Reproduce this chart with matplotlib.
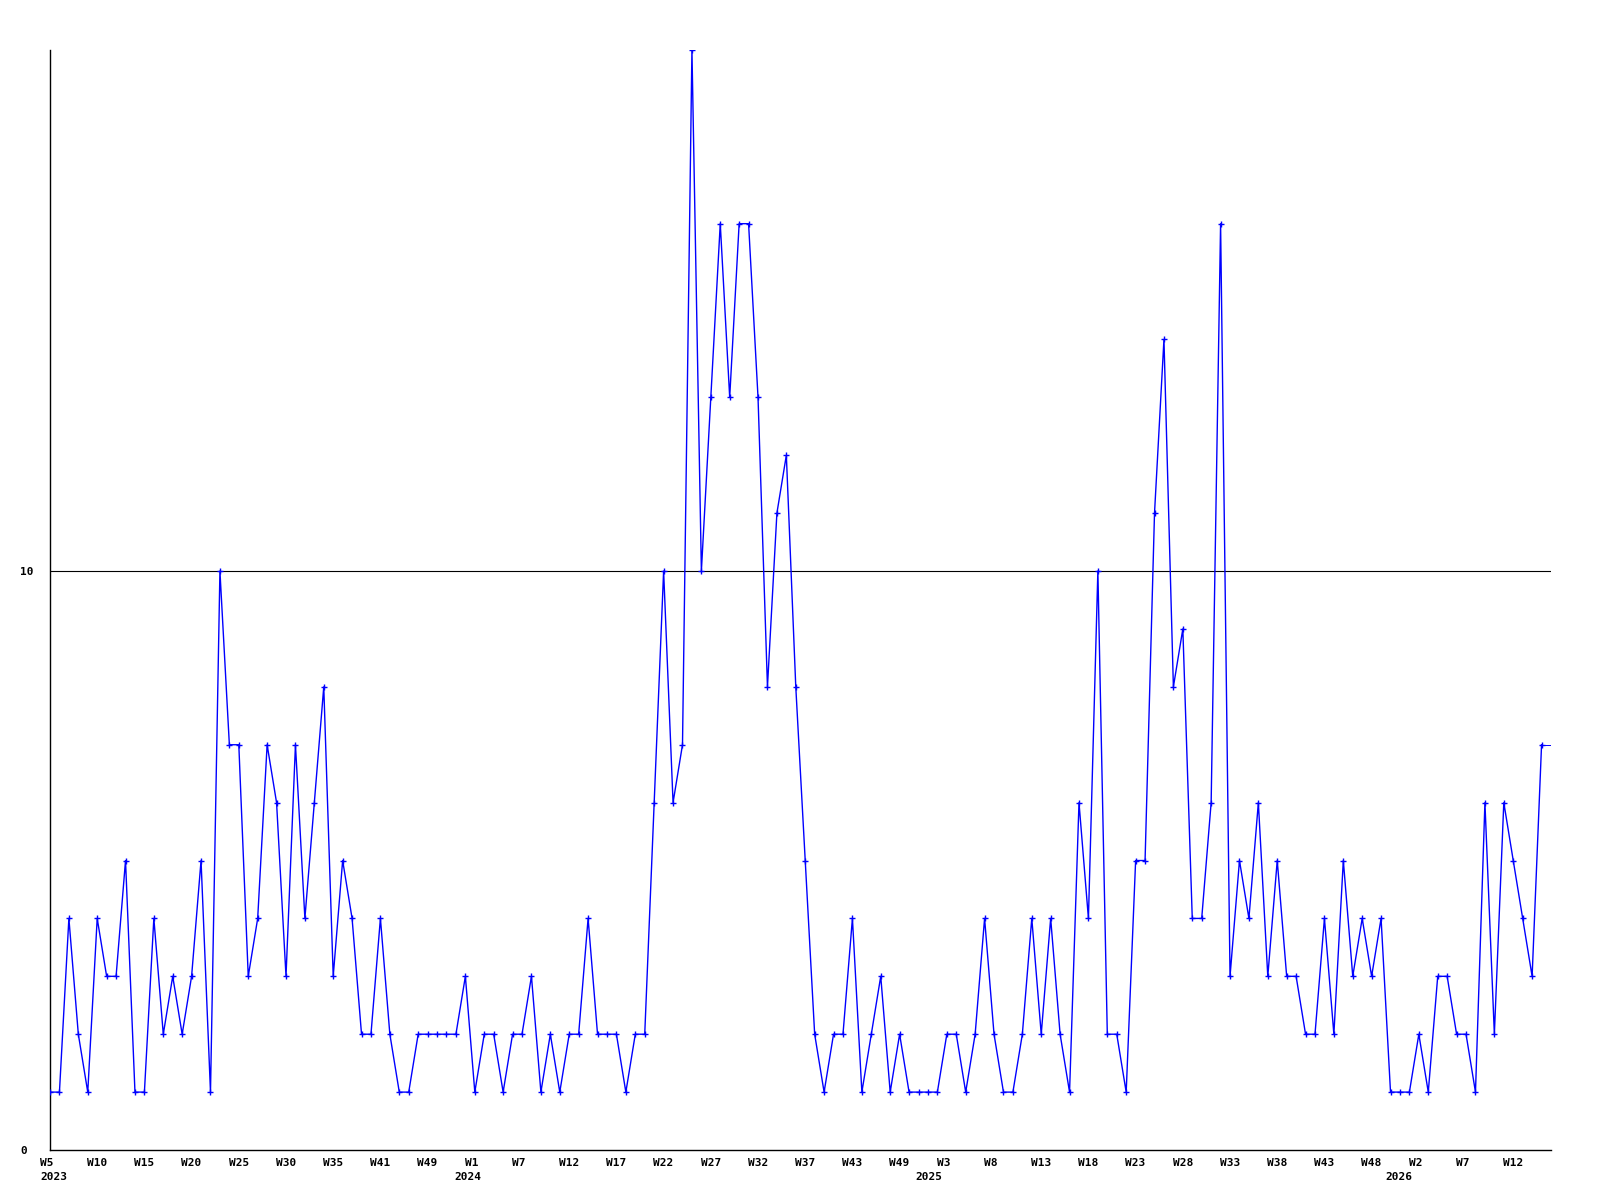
import matplotlib
matplotlib.use("Agg")
import matplotlib.pyplot as plt
import matplotlib.transforms as mtransforms

# weekly values, one per data point (W5 2023 ... W15 2026)
values = [
    1, 1, 4, 2, 1, 4, 3, 3, 5, 1,
    1, 4, 2, 3, 2, 3, 5, 1, 10, 7,
    7, 3, 4, 7, 6, 3, 7, 4, 6, 8,
    3, 5, 4, 2, 2, 4, 2, 1, 1, 2,
    2, 2, 2, 2, 3, 1, 2, 2, 1, 2,
    2, 3, 1, 2, 1, 2, 2, 4, 2, 2,
    2, 1, 2, 2, 6, 10, 6, 7, 19, 10,
    13, 16, 13, 16, 16, 13, 8, 11, 12, 8,
    5, 2, 1, 2, 2, 4, 1, 2, 3, 1,
    2, 1, 1, 1, 1, 2, 2, 1, 2, 4,
    2, 1, 1, 2, 4, 2, 4, 2, 1, 6,
    4, 10, 2, 2, 1, 5, 5, 11, 14, 8,
    9, 4, 4, 6, 16, 3, 5, 4, 6, 3,
    5, 3, 3, 2, 2, 4, 2, 5, 3, 4,
    3, 4, 1, 1, 1, 2, 1, 3, 3, 2,
    2, 1, 6, 2, 6, 5, 4, 3, 7,
]

# x tick labels, one every 5 data points
tick_labels = [
    "W5", "W10", "W15", "W20", "W25", "W30", "W35", "W41", "W49",
    "W1", "W7", "W12", "W17", "W22", "W27", "W32", "W37", "W43", "W49",
    "W3", "W8", "W13", "W18", "W23", "W28", "W33", "W38", "W43", "W48",
    "W2", "W7", "W12",
]
tick_step = 5

# year labels and the (fractional) data index they sit under
year_labels = ["2023", "2024", "2025", "2026"]
year_index = [0.4, 44.3, 93.1, 142.9]

y_ticks = [0, 10]
y_max = 19

font = {"family": "DejaVu Sans Mono", "weight": "bold", "size": 8}

fig = plt.figure(figsize=(16, 12), dpi=100)
ax = fig.add_axes([50 / 1600, 1 - 1150 / 1200, (1551 - 50) / 1600, (1150 - 50) / 1200])

n = len(values)
xs = list(range(n))
ax.plot(xs, values, color="#0000ff", lw=1.0, marker="+", ms=5, mew=1.0, zorder=3)
# line continues to the right edge at the last value
ax.plot([n - 1, n], [values[-1], values[-1]], color="#0000ff", lw=0.7, zorder=3)

ax.set_xlim(0, n)
ax.set_ylim(0, y_max)

ax.axhline(10, color="black", lw=0.8, zorder=1)

for s in ["top", "right"]:
    ax.spines[s].set_visible(False)
for s in ["left", "bottom"]:
    ax.spines[s].set_linewidth(1.0)
    ax.spines[s].set_color("black")

ax.set_xticks([i * tick_step for i in range(len(tick_labels))])
ax.set_xticklabels(tick_labels, **font)
ax.tick_params(axis="x", length=0, pad=6)
shift = mtransforms.ScaledTranslation(-10.2 / 100, 0, fig.dpi_scale_trans)
for lab in ax.get_xticklabels():
    lab.set_horizontalalignment("left")
    lab.set_transform(lab.get_transform() + shift)

trans = mtransforms.blended_transform_factory(ax.transData, ax.transAxes)
for yl, yi in zip(year_labels, year_index):
    ax.text(yi, -26.5 / 1100, yl, transform=trans, ha="center", va="center", **font)

ax.set_yticks(y_ticks)
ax.set_yticklabels([str(v) for v in y_ticks], **font)
ax.tick_params(axis="y", length=0, pad=21.6)
for lab in ax.get_yticklabels():
    lab.set_horizontalalignment("left")

fig.savefig("out.png", dpi=100, facecolor="white")
